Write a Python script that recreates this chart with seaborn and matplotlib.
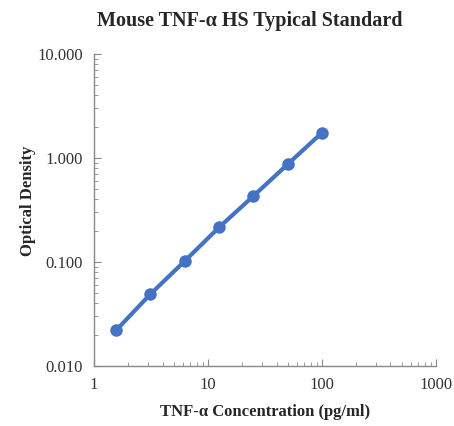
import numpy as np
import pandas as pd
import matplotlib
matplotlib.use("Agg")
import matplotlib.pyplot as plt
import matplotlib.ticker as mticker
import seaborn as sns

# Standard curve data
concentration = [1.5625, 3.125, 6.25, 12.5, 25, 50, 100]
optical_density = [0.022, 0.049, 0.102, 0.215, 0.43, 0.87, 1.75]

df = pd.DataFrame({"conc": concentration, "od": optical_density})

sns.set_style("white")
plt.rcParams["font.family"] = ["Liberation Serif", "DejaVu Serif"]

fig = plt.figure(figsize=(4.54, 4.26), dpi=100)
ax = fig.add_axes([0.207, 0.141, 0.753, 0.732])

sns.lineplot(data=df, x="conc", y="od", ax=ax, color="#4472C4",
             linewidth=3, marker="o", markersize=9, markeredgewidth=0)

ax.set_xscale("log")
ax.set_yscale("log")
ax.set_xlim(1, 1000)
ax.set_ylim(0.01, 10)

ax.xaxis.set_major_formatter(mticker.FuncFormatter(lambda v, p: f"{v:g}"))
ax.yaxis.set_major_formatter(mticker.FuncFormatter(lambda v, p: f"{v:.3f}"))
ax.xaxis.set_minor_formatter(mticker.NullFormatter())
ax.yaxis.set_minor_formatter(mticker.NullFormatter())

for side in ["top", "right"]:
    ax.spines[side].set_visible(False)
for side in ["left", "bottom"]:
    ax.spines[side].set_color("#888888")
    ax.spines[side].set_linewidth(1)

ax.tick_params(which="major", direction="in", length=5, color="#888888",
               labelsize=12, labelcolor="#333333", pad=8,
               bottom=True, left=True)
ax.tick_params(which="minor", direction="in", length=3, color="#888888",
               bottom=True, left=True)

ax.set_xlabel("TNF-α Concentration (pg/ml)", fontsize=12, fontweight="bold",
              labelpad=8)
ax.set_ylabel("Optical Density", fontsize=12, fontweight="bold", labelpad=3)
ax.yaxis.set_label_coords(-0.17, 0.53)
fig.suptitle("Mouse TNF-α HS Typical Standard", fontsize=14.5,
             fontweight="bold", x=0.55, y=0.975)

fig.savefig("out.png", dpi=100)
